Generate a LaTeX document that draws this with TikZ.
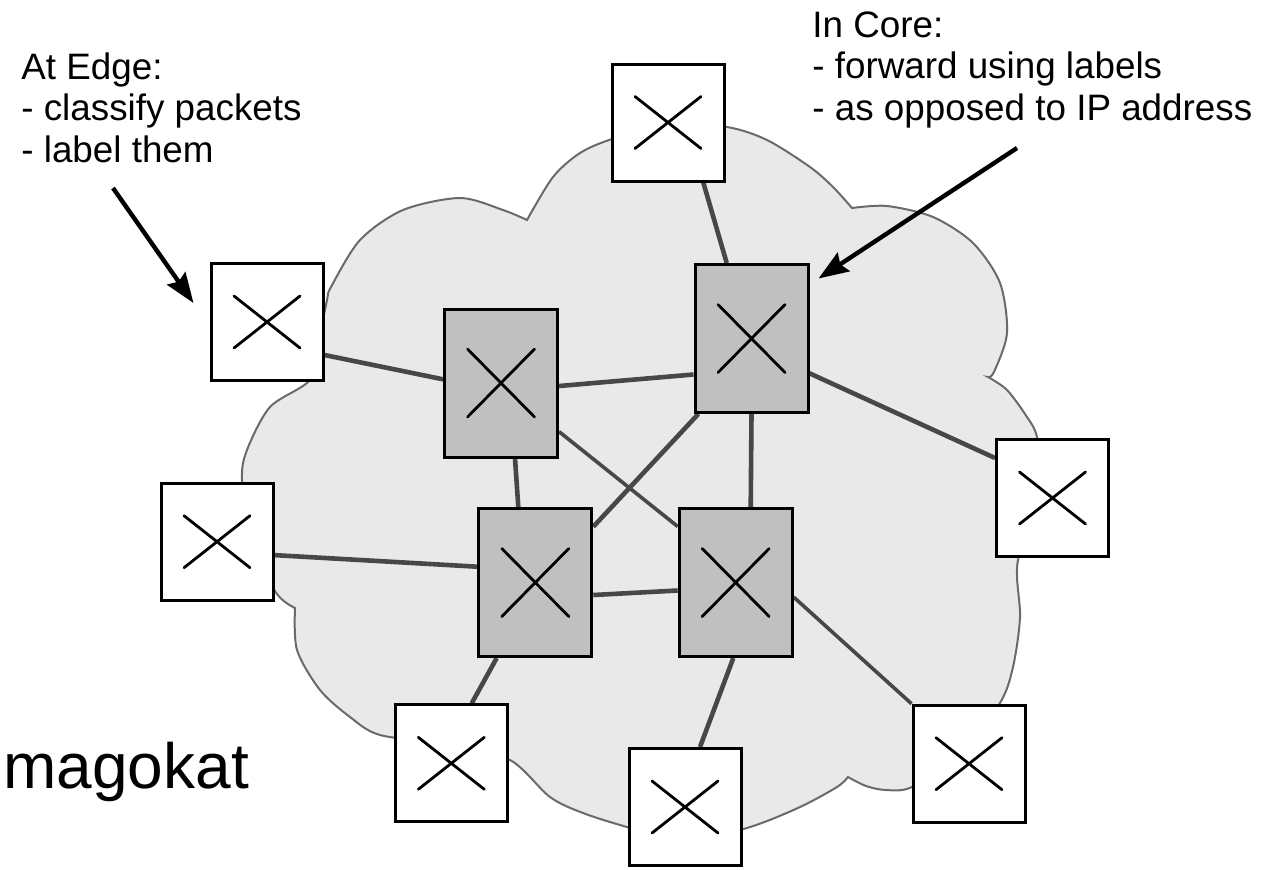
\documentclass[tikz,border=0pt]{standalone}
\usepackage{fontspec}
\setmainfont{Liberation Sans}
\usepackage{tikz}
\usetikzlibrary{positioning}
\usetikzlibrary{arrows.meta,backgrounds}
\definecolor{cloudfill}{HTML}{E9E9E9}
\definecolor{cloudline}{HTML}{6A6A6A}
\definecolor{corefill}{HTML}{C0C0C0}
\definecolor{linkgray}{HTML}{474747}
\tikzstyle{switch box}=[draw=black, line width=1.5pt, inner sep=0pt]
\tikzstyle{core switch}=[switch box, fill=corefill, minimum width=56.5pt, minimum height=74pt,
  path picture={\draw[line width=1.4pt, line cap=round] (path picture bounding box.center) ++(-16.75pt,-17pt) -- ++(33.5pt,34pt) ++(-33.5pt,0pt) -- ++(33.5pt,-34pt);}]
\tikzstyle{edge switch}=[switch box, fill=white, minimum width=56pt, minimum height=58.5pt,
  path picture={\draw[line width=1.4pt, line cap=round] (path picture bounding box.center) ++(-16.5pt,-13pt) -- ++(33pt,26pt) ++(-33pt,0pt) -- ++(33pt,-26pt);}]
\tikzstyle{link}=[draw=linkgray, line width=2.3pt]
\tikzstyle{label arrow}=[-{Stealth[length=15pt,width=11pt,inset=2pt]}, line width=2.2pt]
\tikzstyle{note}=[font=\fontsize{18.4pt}{20.75pt}\selectfont, align=left, inner sep=0pt, anchor=base west]
\newcommand{\corenode}[2][]{
  \node [core switch, #1] (#2) {}
}
\newcommand{\edgenode}[2][]{
  \node [edge switch, #1] (#2) {}
}

\begin{document}
\begin{tikzpicture}[x=0.5pt, y=-0.5pt, on grid]
        \useasboundingbox (0,0) rectangle (1278,869);
        % the cloud
        \begin{scope}[on background layer]
        \filldraw[fill=cloudfill, draw=cloudline, line width=1pt]
          plot[smooth] coordinates {(527,220) (553,177) (580,153) (612,139) (668,124) (727,127) (767,140) (810,167) (833,187) (852,208)}
          -- plot[smooth] coordinates {(852,208) (887,206) (933,217) (973,243) (1000,283) (1007,333) (994,372) (988,377)}
          -- plot[smooth] coordinates {(988,377) (1007,390) (1027,417) (1037,437) (1045,490) (1018,560) (1020,617) (1013,667) (1000,703) (960,755) (912,787) (886,790) (866,786) (848,777)}
          -- plot[smooth] coordinates {(848,777) (837,787) (800,807) (750,827) (685,842) (627,827) (583,813) (550,797) (510,760) (450,745) (380,735) (350,717) (320,690) (297,650) (295,608)}
          -- plot[smooth] coordinates {(295,608) (277,594) (250,545) (242,480) (247,450) (270,407) (310,380) (318,345)}
          -- plot[smooth] coordinates {(318,345) (327,300) (331,287) (360,240) (403,210) (460,198) (503,210) (527,220)}
          -- cycle;
        \end{scope}

        \corenode[at={(501,383)}]{c1};
        \corenode[above right=22.25pt and 125.25pt of c1]{c2};
        \corenode[below right=99.75pt and 17.15pt of c1]{c3};
        \corenode[right=100.2pt of c3]{c4};
        \edgenode[above left=108pt and 41.75pt of c2]{e1};
        \edgenode[above left=30.5pt and 117pt of c1]{e2};
        \edgenode[above left=20.4pt and 159.15pt of c3]{e3};
        \edgenode[below right=79.75pt and 150.5pt of c2]{e4};
        \edgenode[below left=90.4pt and 42pt of c3]{e5};
        \edgenode[below left=112.25pt and 25.35pt of c4]{e6};
        \edgenode[below right=90.6pt and 116.65pt of c4]{e7};

        \begin{scope}[on background layer]
        \draw[link] ([xshift=17.65pt]e1.south) -- ([xshift=-12.4pt]c2.north);
        \draw[link] ([yshift=-16.5pt]e2.east) -- ([yshift=1.85pt]c1.west);
        \draw[link] ([yshift=-1.5pt]c1.east) -- ([yshift=-18pt]c2.west);
        \draw[link, line width=1.8pt] ([yshift=-24.3pt]c1.east) -- ([yshift=28pt]c4.west);
        \draw[link] ([xshift=-26.6pt]c2.south) -- ([yshift=27.9pt]c3.east);
        \draw[link] (c2.south) -- ([xshift=7.5pt]c4.north);
        \draw[link] ([yshift=-17.4pt]c2.east) -- ([yshift=20pt]e4.west);
        \draw[link] ([xshift=7pt]c1.south) -- ([xshift=-8.5pt]c3.north);
        \draw[link] ([yshift=-6.7pt]e3.east) -- ([yshift=7.9pt]c3.west);
        \draw[link] ([yshift=-6.25pt]c3.east) -- ([yshift=-4pt]c4.west);
        \draw[link] ([xshift=-19.3pt]c3.south) -- ([xshift=10.2pt]e5.north);
        \draw[link] ([xshift=-1.2pt]c4.south) -- ([xshift=7.5pt]e6.north);
        \draw[link, line width=1.8pt] ([yshift=-7.3pt]c4.east) -- (e7.north west);
        \end{scope}

        \node[note] (edgenote) at (21,162) {At Edge:\\- classify packets\\- label them};
        \node[note] (corenote) at (812,120) {In Core:\\- forward using labels\\- as opposed to IP address};
        \node[font=\fontsize{32pt}{38pt}\selectfont, anchor=base west, inner sep=0pt] (mark) at (3,788) {magokat};

        \coordinate (edgetail) at (113,188);
        \coordinate (coretail) at (1017,148);
        \draw[label arrow] (edgetail) -- ([shift={(-8pt,9.5pt)}]e2.west);
        \draw[label arrow] (coretail) -- ([shift={(4.5pt,-7.75pt)}]c2.north east);
\end{tikzpicture}
\end{document}
